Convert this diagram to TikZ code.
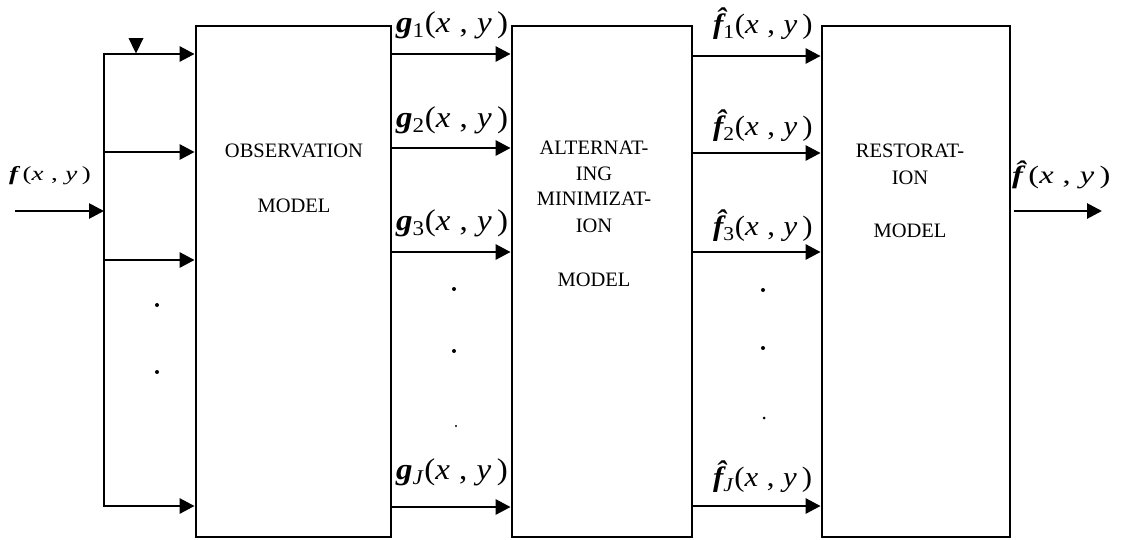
\documentclass[tikz,border=0pt]{standalone}
\usepackage{fontspec}
\setmainfont{Liberation Serif}
\usetikzlibrary{arrows.meta}
% argument list "(x , y)" and the signal letters
\newcommand\xy{(\textit{x}\;,\;\textit{y}\,)}
\newcommand\gsig[1]{{\bfseries\itshape g}\textsubscript{#1}\xy}
\newcommand\hatf{{\bfseries\itshape \^{f}}}
\newcommand\fsig[1]{\hatf\textsubscript{#1}\xy}
\newcommand\wide[2]{\scalebox{#1}[1]{#2}}
\begin{document}
\begin{tikzpicture}[x=1pt,y=-1pt,
  blk/.style={draw, line width=2.8pt, rectangle, minimum height=511pt, inner sep=0pt},
  boxtext/.style={font=\fontsize{20.5}{23}\selectfont, inner sep=0pt},
  sig/.style={font=\fontsize{30}{32}\selectfont, inner sep=0pt, anchor=west},
  wire/.style={line width=2.8pt},
  arr/.style={line width=2.8pt, -{Triangle[length=15pt,width=15pt]}},
  dot/.style={fill, circle, inner sep=0pt, minimum size=4pt}]
\useasboundingbox (0,0) rectangle (1121,539);

% the three processing blocks
\node[blk, minimum width=195pt] (obs) at (293.5,281.5) {};
\node[blk, minimum width=180pt] (alt) at (602,281.5) {};
\node[blk, minimum width=188pt] (res) at (916,281.5) {};

\node[boxtext] (obs1) at (294,151) {OBSERVATION};
\node[boxtext] (obs2) at (294,206) {MODEL};
\node[boxtext] (alt1) at (594,148) {ALTERNAT-};
\node[boxtext] (alt2) at (594,174) {ING};
\node[boxtext] (alt3) at (594,199) {MINIMIZAT-};
\node[boxtext] (alt4) at (594,226) {ION};
\node[boxtext] (alt5) at (594,280) {MODEL};
\node[boxtext] (res1) at (910,151) {RESTORAT-};
\node[boxtext] (res2) at (910,178) {ION};
\node[boxtext] (res3) at (910,231) {MODEL};

% input and the distribution bus
\coordinate (in) at (15,211);
\coordinate (busin) at (104,211);
\coordinate (bt) at (104,54);
\coordinate (b2) at (104,152);
\coordinate (b3) at (104,260);
\coordinate (bb) at (104,506);
\draw[arr] (in) -- (busin);
\draw[wire, line cap=rect] (bt) -- (bb);
\draw[arr] (bt) -- (obs.west |- bt);
\draw[arr] (b2) -- (obs.west |- b2);
\draw[arr] (b3) -- (obs.west |- b3);
\draw[arr] (bb) -- (obs.west |- bb);
\fill (128.5,38) -- (143.5,38) -- (136,53.5) -- cycle;
\node[sig, font=\fontsize{20}{22}\selectfont] (fin) at (9,176)
  {\wide{1.35}{{\bfseries\itshape f}\,\xy}};
\node[dot] (d1) at (157,305) {};
\node[dot] (d2) at (157,372) {};

% observed images g_j
\coordinate (g1) at (0,54);
\coordinate (g2) at (0,148);
\coordinate (g3) at (0,252);
\coordinate (gJ) at (0,507);
\draw[arr] (obs.east |- g1) -- (alt.west |- g1);
\draw[arr] (obs.east |- g2) -- (alt.west |- g2);
\draw[arr] (obs.east |- g3) -- (alt.west |- g3);
\draw[arr] (obs.east |- gJ) -- (alt.west |- gJ);
\node[sig] (lg1) at (396,25) {\wide{1.1}{\gsig{1}}};
\node[sig] (lg2) at (396,120) {\wide{1.1}{\gsig{2}}};
\node[sig] (lg3) at (396,223) {\wide{1.1}{\gsig{3}}};
\node[sig] (lgJ) at (396,472) {\wide{1.1}{\gsig{\textit{J}}}};
\node[dot] (d3) at (454,289) {};
\node[dot] (d4) at (454,351) {};
\node[dot, minimum size=2.2pt] (d5) at (456,426) {};

% restored estimates
\coordinate (f1) at (0,56);
\coordinate (f2) at (0,153);
\coordinate (f3) at (0,252);
\coordinate (fJ) at (0,506);
\draw[arr] (alt.east |- f1) -- (res.west |- f1);
\draw[arr] (alt.east |- f2) -- (res.west |- f2);
\draw[arr] (alt.east |- f3) -- (res.west |- f3);
\draw[arr] (alt.east |- fJ) -- (res.west |- fJ);
\node[sig, font=\fontsize{28}{30}\selectfont] (lf1) at (713,24) {\wide{1.1}{\fsig{1}}};
\node[sig, font=\fontsize{28}{30}\selectfont] (lf2) at (713,126) {\wide{1.1}{\fsig{2}}};
\node[sig, font=\fontsize{28}{30}\selectfont] (lf3) at (713,226) {\wide{1.1}{\fsig{3}}};
\node[sig, font=\fontsize{28}{30}\selectfont] (lfJ) at (713,477) {\wide{1.1}{\fsig{\textit{J}}}};
\node[dot] (d6) at (763,290) {};
\node[dot] (d7) at (763,348) {};
\node[dot, minimum size=3pt] (d8) at (764,418) {};

% output
\coordinate (out) at (1102,211);
\draw[arr] (res.east |- out) ++(3,0) -- (out);
\node[sig, font=\fontsize{25}{27}\selectfont] (lout) at (1012,175)
  {\wide{1.3}{\hatf\,\xy}};
\end{tikzpicture}
\end{document}
